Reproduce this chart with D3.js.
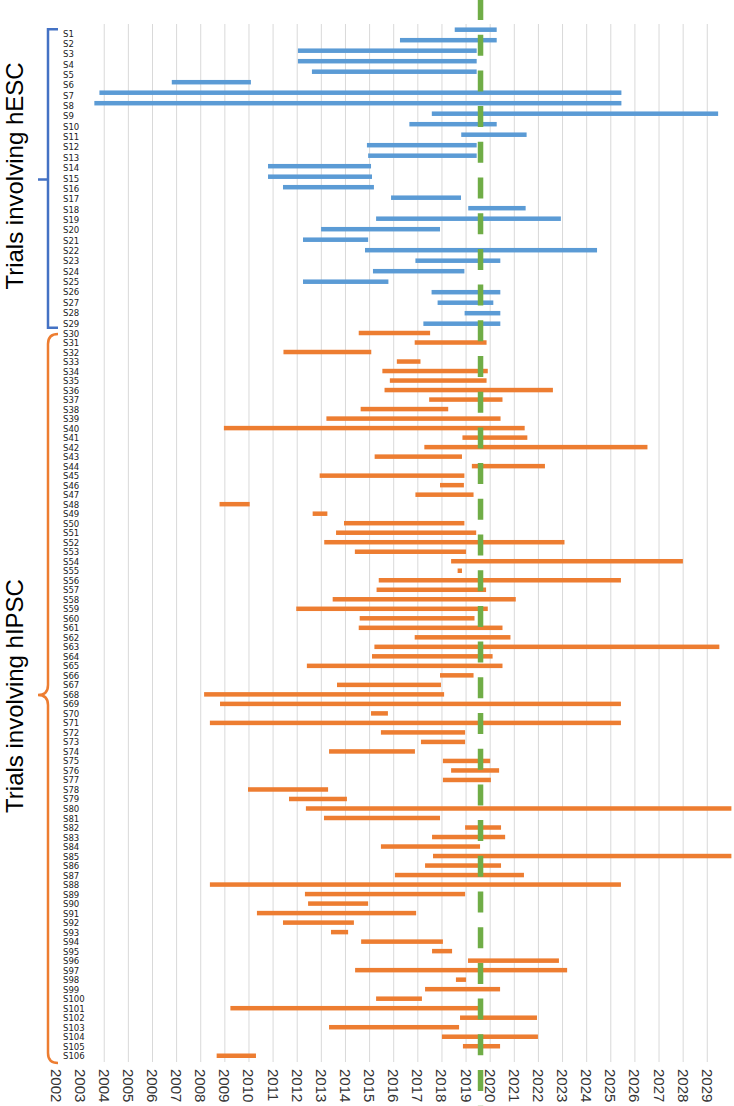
<!DOCTYPE html>
<html>
<head>
<meta charset="utf-8">
<script src="https://cdn.jsdelivr.net/npm/d3@7"></script>
<style>
  html, body { margin: 0; padding: 0; background: #fff; }
  svg { display: block; }
</style>
</head>
<body>
<div id="chart"></div>
<script>
// ---------------- DATA ----------------
const hescCategories = ["S1","S2","S3","S4","S5","S6","S7","S8","S9","S10","S11","S12","S13","S14","S15","S16","S17","S18","S19","S20","S21","S22","S23","S24","S25","S26","S27","S28","S29"];
const hescStart = [2018.53, 2016.26, 2012.03, 2012.03, 2012.61, 2006.80, 2003.80, 2003.59, 2017.58, 2016.65, 2018.80, 2014.89, 2014.94, 2010.79, 2010.79, 2011.41, 2015.89, 2019.09, 2015.27, 2012.99, 2012.24, 2014.81, 2016.90, 2015.14, 2012.24, 2017.57, 2017.82, 2018.94, 2017.23];
const hescEnd   = [2020.27, 2020.27, 2019.44, 2019.44, 2019.44, 2010.08, 2025.44, 2025.44, 2029.45, 2020.27, 2021.51, 2019.44, 2019.44, 2015.06, 2015.10, 2015.18, 2018.79, 2021.47, 2022.93, 2017.92, 2014.94, 2024.43, 2020.42, 2018.93, 2015.78, 2020.42, 2020.13, 2020.42, 2020.42];

const hipscCategories = ["S30","S31","S32","S33","S34","S35","S36","S37","S38","S39","S40","S41","S42","S43","S44","S45","S46","S47","S48","S49","S50","S51","S52","S53","S54","S55","S56","S57","S58","S59","S60","S61","S62","S63","S64","S65","S66","S67","S68","S69","S70","S71","S72","S73","S74","S75","S76","S77","S78","S79","S80","S81","S82","S83","S84","S85","S86","S87","S88","S89","S90","S91","S92","S93","S94","S95","S96","S97","S98","S99","S100","S101","S102","S103","S104","S105","S106"];
const hipscStart = [2014.55, 2016.87, 2011.43, 2016.13, 2015.53, 2015.84, 2015.62, 2017.47, 2014.63, 2013.21,
                    2008.96, 2018.85, 2017.27, 2015.21, 2019.24, 2012.93, 2017.92, 2016.90, 2008.78, 2012.64,
                    2013.94, 2013.61, 2013.12, 2014.39, 2018.38, 2018.65, 2015.38, 2015.29, 2013.47, 2011.96,
                    2014.59, 2014.55, 2016.87, 2015.20, 2015.10, 2012.40, 2017.92, 2013.65, 2008.14, 2008.80,
                    2015.06, 2008.38, 2015.47, 2017.13, 2013.32, 2018.04, 2018.38, 2018.04, 2009.96, 2011.66,
                    2012.36, 2013.11, 2018.96, 2017.59, 2015.47, 2017.63, 2017.30, 2016.05, 2008.38, 2012.32,
                    2012.45, 2010.33, 2011.41, 2013.40, 2014.65, 2017.59, 2019.08, 2014.40, 2018.58, 2017.30,
                    2015.27, 2009.23, 2018.75, 2013.32, 2018.00, 2018.87, 2008.66];
const hipscEnd   = [2017.51, 2019.85, 2015.07, 2017.11, 2019.90, 2019.85, 2022.60, 2020.51, 2018.26, 2020.43,
                    2021.43, 2021.54, 2026.52, 2018.83, 2022.27, 2018.93, 2018.91, 2019.31, 2010.03, 2013.25,
                    2018.93, 2019.42, 2023.08, 2019.00, 2027.99, 2018.83, 2025.42, 2019.83, 2021.06, 2019.90,
                    2019.35, 2020.51, 2020.84, 2029.50, 2020.10, 2020.51, 2019.31, 2017.96, 2018.09, 2025.42,
                    2015.76, 2025.42, 2018.96, 2018.96, 2016.88, 2020.00, 2020.37, 2020.03, 2013.28, 2014.06,
                    2030.00, 2017.92, 2020.45, 2020.62, 2019.58, 2030.00, 2020.45, 2021.40, 2025.42, 2018.96,
                    2014.94, 2016.93, 2014.35, 2014.11, 2018.04, 2018.42, 2022.85, 2023.19, 2019.00, 2020.41,
                    2017.17, 2019.54, 2021.94, 2018.71, 2021.98, 2020.41, 2010.29];

const yearTicks = [2002,2003,2004,2005,2006,2007,2008,2009,2010,2011,2012,2013,2014,2015,2016,2017,2018,2019,2020,2021,2022,2023,2024,2025,2026,2027,2028,2029];
const gridYears = [2004,2005,2006,2007,2008,2009,2010,2011,2012,2013,2014,2015,2016,2017,2018,2019,2020,2021,2022,2023,2024,2025,2026,2027,2028,2029];
const referenceYear = 2019.6;
const groupTitles = ["Trials involving hESC", "Trials involving hIPSC"];

// ---------------- LAYOUT ----------------
const W = 734, H = 1106;
const plotTop = 24, plotBottom = 1062;
const colors = { hesc: "#5B9BD5", hipsc: "#ED7D31", ref: "#70AD47", bracketBlue: "#4472C4", grid: "#D9D9D9" };

const svg = d3.select("#chart").append("svg").attr("width", W).attr("height", H);

const x = d3.scaleLinear().domain([2002, 2030]).range([56, 731.4]);

const yHesc = d3.scaleBand().domain(hescCategories).range([24.45, 328.95]).padding(0);
const yHescLabel = d3.scalePoint().domain(hescCategories).range([33, 323]);
const yHipsc = d3.scaleBand().domain(hipscCategories).range([328.25, 1060.5]).padding(0);

const hescData = hescCategories.map((c, i) => ({ c, s: hescStart[i], e: hescEnd[i] }));
const hipscData = hipscCategories.map((c, i) => ({ c, s: hipscStart[i], e: hipscEnd[i] }));

// gridlines
svg.append("g").selectAll("line").data(gridYears).join("line")
  .attr("x1", d => x(d)).attr("x2", d => x(d))
  .attr("y1", plotTop).attr("y2", plotBottom)
  .attr("stroke", colors.grid).attr("stroke-width", 1);

// bars
const barH = 4.5;
svg.append("g").selectAll("rect").data(hescData).join("rect")
  .attr("x", d => x(d.s)).attr("width", d => Math.max(0, Math.min(x(d.e), W) - x(d.s)))
  .attr("y", d => yHesc(d.c) + yHesc.bandwidth() / 2 - barH / 2)
  .attr("height", barH).attr("fill", colors.hesc);

svg.append("g").selectAll("rect").data(hipscData).join("rect")
  .attr("x", d => x(d.s)).attr("width", d => Math.max(0, Math.min(x(d.e), W) - x(d.s)))
  .attr("y", d => yHipsc(d.c) + yHipsc.bandwidth() / 2 - barH / 2)
  .attr("height", barH).attr("fill", colors.hipsc);

// row labels
const labelFont = "'Liberation Sans Narrow', 'DejaVu Sans Condensed', 'Roboto Condensed', sans-serif";
svg.append("g").selectAll("text").data(hescCategories).join("text")
  .attr("x", 63).attr("y", d => yHescLabel(d))
  .attr("dominant-baseline", "central")
  .attr("font-family", labelFont).attr("font-size", 9.5).attr("fill", "#222")
  .text(d => d);
svg.append("g").selectAll("text").data(hipscCategories).join("text")
  .attr("x", 63).attr("y", d => yHipsc(d) + yHipsc.bandwidth() / 2)
  .attr("dominant-baseline", "central")
  .attr("font-family", labelFont).attr("font-size", 9.5).attr("fill", "#222")
  .text(d => d);

// x axis labels (rotated)
svg.append("g").selectAll("text").data(yearTicks).join("text")
  .attr("transform", d => `translate(${x(d)},1069) rotate(90)`)
  .attr("text-anchor", "start").attr("dominant-baseline", "central")
  .attr("font-family", "'Liberation Sans', Arial, sans-serif").attr("font-size", 15).attr("fill", "#333")
  .text(d => d);

// reference dashed line
svg.append("line")
  .attr("x1", x(referenceYear)).attr("x2", x(referenceYear))
  .attr("y1", -1).attr("y2", H)
  .attr("stroke", colors.ref).attr("stroke-width", 5.5)
  .attr("stroke-dasharray", "21,14.7");

// brackets
const hescTop = yHesc(hescCategories[0]) + yHesc.bandwidth() / 2 - 0.5;
const hescBot = yHesc(hescCategories[hescCategories.length - 1]) + yHesc.bandwidth() / 2 + 4;
const hescMid = 179.5;
svg.append("path")
  .attr("d", `M58,${hescTop} H48 V${hescBot} H58 M48,${hescMid} H38`)
  .attr("fill", "none").attr("stroke", colors.bracketBlue).attr("stroke-width", 2.5);

const bTop = 334, bBot = 1063, bMid = 695;
svg.append("path")
  .attr("d", `M58,${bTop} Q48,${bTop} 48,${bTop + 10} V${bMid - 10} Q48,${bMid} 38,${bMid} Q48,${bMid} 48,${bMid + 10} V${bBot - 10} Q48,${bBot} 58,${bBot}`)
  .attr("fill", "none").attr("stroke", colors.hipsc).attr("stroke-width", 2.5);

// group titles
svg.append("text")
  .attr("transform", "translate(23,176) rotate(-90)")
  .attr("text-anchor", "middle")
  .attr("font-family", "'Liberation Sans', Arial, sans-serif").attr("font-size", 24).attr("fill", "#000")
  .text(groupTitles[0]);
svg.append("text")
  .attr("transform", "translate(23,696) rotate(-90)")
  .attr("text-anchor", "middle")
  .attr("font-family", "'Liberation Sans', Arial, sans-serif").attr("font-size", 24).attr("fill", "#000")
  .text(groupTitles[1]);
</script>
</body>
</html>
